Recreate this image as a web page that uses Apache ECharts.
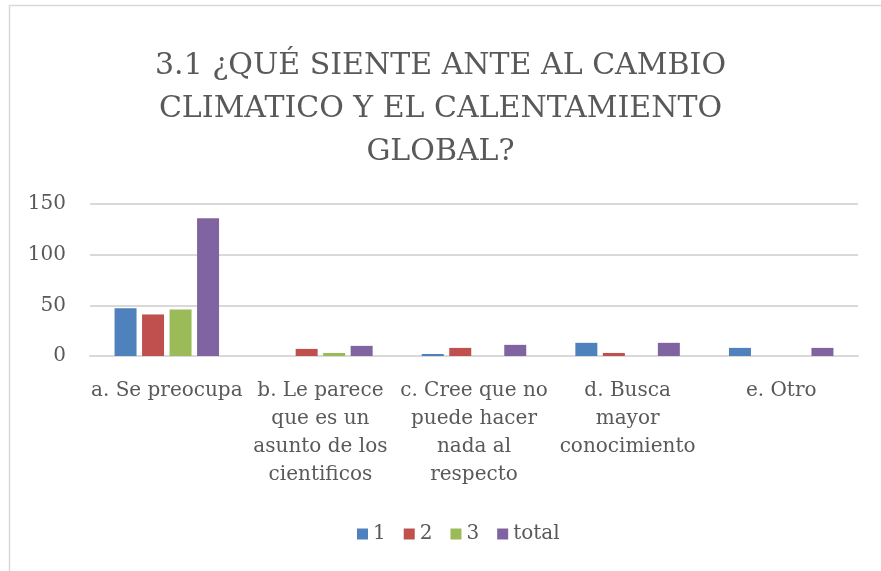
<!DOCTYPE html>
<html><head><meta charset="utf-8">
<script src="https://cdn.jsdelivr.net/npm/echarts@6/dist/echarts.min.js"></script>
<style>html,body{margin:0;padding:0;background:#fff}#c{width:881px;height:571px}</style>
</head><body><div id="c"></div>
<script>
var titleText = '3.1 ¿QUÉ SIENTE ANTE AL CAMBIO\nCLIMATICO Y EL CALENTAMIENTO\nGLOBAL?';
var categories = ['a. Se preocupa', 'b. Le parece\nque es un\nasunto de los\ncientificos', 'c. Cree que no\npuede hacer\nnada al\nrespecto', 'd. Busca\nmayor\nconocimiento', 'e. Otro'];
var seriesNames = ['1', '2', '3', 'total'];
var s1 = [47, 0, 2, 13, 8];
var s2 = [41, 7, 8, 3, 0];
var s3 = [46, 3, 0, 0, 0];
var sTotal = [136, 10, 11, 13, 8];
var yTicks = {min: 0, max: 150, interval: 50};
var colors = ['#4F81BD', '#C0504D', '#9BBB59', '#8064A2'];
var font = 'DejaVu Serif';
var chart = echarts.init(document.getElementById('c'));
var data = [s1, s2, s3, sTotal];
chart.setOption({
  animation: false,
  color: colors,
  title: {text: titleText, left: 'center', top: 40, textStyle: {fontFamily: font, fontSize: 30, fontWeight: 'normal', color: '#595959', lineHeight: 43}},
  graphic: [{type: 'rect', shape: {x: 9.5, y: 5.5, width: 900, height: 600}, style: {fill: 'none', stroke: '#D9D9D9', lineWidth: 1.5}, silent: true}],
  legend: {bottom: 22, left: 352, itemWidth: 11, itemHeight: 11, itemGap: 18, icon: 'rect', textStyle: {fontFamily: font, fontSize: 20, color: '#595959'}, data: seriesNames},
  grid: {left: 90, right: 23, top: 204, bottom: 215, containLabel: false},
  xAxis: {type: 'category', data: categories, axisTick: {show: false}, axisLine: {lineStyle: {color: '#D9D9D9', width: 2}}, axisLabel: {interval: 0, margin: 21, fontFamily: font, fontSize: 20, color: '#595959', lineHeight: 28}},
  yAxis: {type: 'value', min: yTicks.min, max: yTicks.max, interval: yTicks.interval, axisLine: {show: false}, axisTick: {show: false}, splitLine: {lineStyle: {color: '#D9D9D9', width: 2}}, axisLabel: {margin: 24, fontFamily: font, fontSize: 20, color: '#595959'}},
  series: data.map(function (d, i) {
    return {name: seriesNames[i], type: 'bar', data: d, barWidth: 22, barGap: '25%'};
  })
});
</script></body></html>
